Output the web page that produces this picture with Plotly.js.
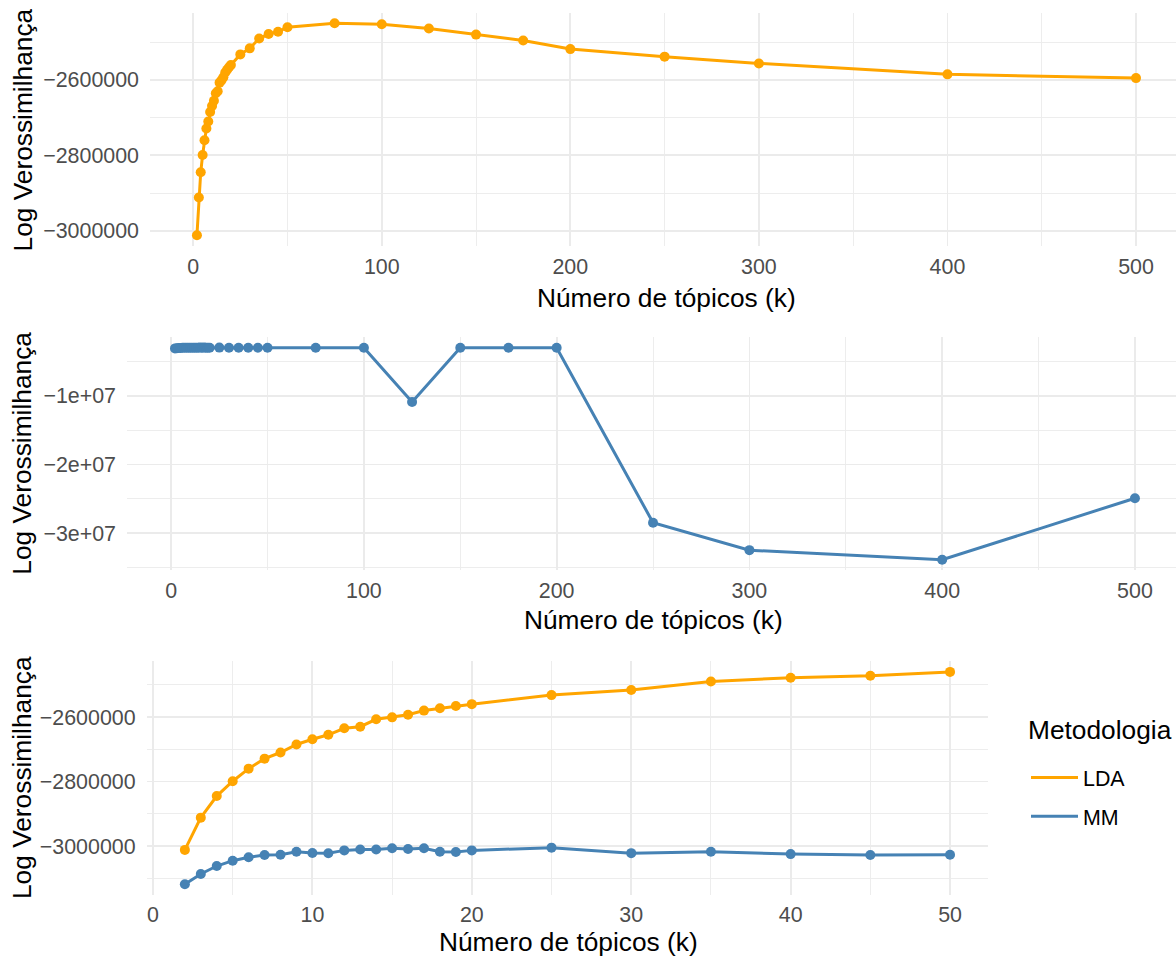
<!DOCTYPE html>
<html>
<head>
<meta charset="utf-8">
<script src="https://cdn.plot.ly/plotly-3.0.1.min.js"></script>
<style>
  html, body { margin: 0; padding: 0; background: #ffffff; }
  #chart { width: 1176px; height: 957px; }
</style>
</head>
<body>
<div id="chart"></div>
<script>
// Number of topics (k) evaluated for each model
const topicsK = [2, 3, 4, 5, 6, 7, 8, 9, 10, 11, 12, 13, 14, 15, 16, 17, 18, 19, 20,
                 25, 30, 35, 40, 45, 50, 75, 100, 125, 150, 175, 200, 250, 300, 400, 500];

// Log-likelihood of the LDA model for each k
const ldaLogLik = [-3012000, -2912000, -2845000, -2799000, -2760000, -2729000, -2710000,
                   -2685000, -2669000, -2655000, -2635000, -2630000, -2607000, -2601000,
                   -2593000, -2580000, -2573000, -2566000, -2560000,
                   -2532000, -2516000, -2490000, -2478000, -2472000, -2460000,
                   -2449500, -2452000, -2463500, -2479500, -2495000, -2518000,
                   -2538000, -2556000, -2585000, -2595000];

// Log-likelihood of the mixed-membership (MM) model for each k
const mmLogLik = [-3118600, -3086600, -3062000, -3045500, -3035000, -3028000, -3027000,
                  -3017500, -3021500, -3022500, -3013500, -3010500, -3010500, -3007000,
                  -3009000, -3007000, -3017500, -3018500, -3013500,
                  -3005000, -3022000, -3017500, -3025000, -3028000, -3027000,
                  -3021000, -3019000, -10900000, -3018000, -3020000, -3019000,
                  -28460000, -32450000, -33850000, -24900000];

const methodNames = ['LDA', 'MM'];
const methodColors = ['#FFA500', '#4682B4'];

// Largest k shown in the detail panel
const detailMaxK = 50;

// Tick labels
const wideKTicks = [0, 100, 200, 300, 400, 500];
const detailKTicks = [0, 10, 20, 30, 40, 50];
const likTickVals = [-3000000, -2800000, -2600000];
const likTickText = ['\u22123000000', '\u22122800000', '\u22122600000'];
const mmTickVals = [-30000000, -20000000, -10000000];
const mmTickText = ['\u22123e+07', '\u22122e+07', '\u22121e+07'];

const axisTitleX = 'Número de tópicos (k)';
const axisTitleY = 'Log Verossimilhança';
const legendTitle = 'Metodologia';

// ---------------------------------------------------------------------------
const W = 1176, H = 957;
const FONT = 'Liberation Sans, Arial, sans-serif';
const GRID = '#EBEBEB';
const TICK_COLOR = '#4D4D4D';
const TICK_SIZE = 21.4;
const TITLE_SIZE = 26.3;

const px = v => v / W;          // horizontal pixel -> paper fraction
const py = v => 1 - v / H;      // vertical pixel (from top) -> paper fraction

const detailIdx = topicsK.map((k, i) => i).filter(i => topicsK[i] <= detailMaxK);
const detailK = detailIdx.map(i => topicsK[i]);

function seriesTrace(xs, ys, color, xa, ya) {
  return {
    x: xs, y: ys, xaxis: xa, yaxis: ya,
    type: 'scatter', mode: 'lines+markers',
    line: { color: color, width: 3 },
    marker: { color: color, size: 10 },
    showlegend: false, hoverinfo: 'x+y'
  };
}

const traces = [
  seriesTrace(topicsK, ldaLogLik, methodColors[0], 'x', 'y'),
  seriesTrace(topicsK, mmLogLik, methodColors[1], 'x2', 'y2'),
  seriesTrace(detailK, detailIdx.map(i => ldaLogLik[i]), methodColors[0], 'x3', 'y3'),
  seriesTrace(detailK, detailIdx.map(i => mmLogLik[i]), methodColors[1], 'x3', 'y3')
];

// Legend entries drawn as plain line keys
methodNames.forEach((name, j) => {
  traces.push({
    x: [null], y: [null], xaxis: 'x3', yaxis: 'y3',
    type: 'scatter', mode: 'lines', name: name,
    legendgroup: name,
    line: { color: methodColors[j], width: 3 },
    showlegend: true, hoverinfo: 'skip'
  });
});

function xAxis(domain, range, ticks, minorStep, anchor) {
  return {
    domain: domain, range: range, anchor: anchor,
    tickmode: 'array', tickvals: ticks, ticktext: ticks.map(String),
    ticks: '', ticklabelstandoff: 5,
    tickfont: { family: FONT, size: TICK_SIZE, color: TICK_COLOR },
    showgrid: true, gridcolor: GRID, gridwidth: 1.8,
    minor: { dtick: minorStep, tick0: minorStep / 2, showgrid: true, gridcolor: GRID, gridwidth: 0.9 },
    zeroline: false, showline: false, fixedrange: true
  };
}

function yAxis(domain, range, vals, text, minorVals, anchor) {
  return {
    domain: domain, range: range, anchor: anchor,
    tickmode: 'array', tickvals: vals, ticktext: text,
    ticks: '', ticklabelstandoff: 10,
    tickfont: { family: FONT, size: TICK_SIZE, color: TICK_COLOR },
    showgrid: true, gridcolor: GRID, gridwidth: 1.8,
    minor: { tickmode: 'array', tickvals: minorVals, showgrid: true, gridcolor: GRID, gridwidth: 0.9 },
    zeroline: false, showline: false, fixedrange: true
  };
}

// Panel boxes (pixels from the top-left of the page)
const p1 = { l: 150, r: 1176, t: 12.7, b: 246.3 };
const p2 = { l: 127, r: 1176, t: 337.0, b: 570.4 };
const p3 = { l: 146.6, r: 988.3, t: 661.2, b: 894.9 };

function titleNote(text, x, y, angle, anchorX) {
  return {
    text: text, xref: 'paper', yref: 'paper', x: px(x), y: py(y),
    xanchor: anchorX || 'center', yanchor: 'middle', showarrow: false, textangle: angle || 0,
    font: { family: FONT, size: TITLE_SIZE, color: '#000000' }
  };
}

const layout = {
  width: W, height: H,
  margin: { l: 0, r: 0, t: 0, b: 0, pad: 0 },
  paper_bgcolor: '#ffffff', plot_bgcolor: '#ffffff',
  font: { family: FONT, color: '#000000' },
  xaxis:  xAxis([px(p1.l), px(p1.r)], [-22.9, 521.2], wideKTicks, 100, 'y'),
  yaxis:  yAxis([py(p1.b), py(p1.t)], [-3041500, -2421360], likTickVals, likTickText,
                [-2900000, -2700000, -2500000], 'x'),
  xaxis2: xAxis([px(p2.l), px(p2.r)], [-22.9, 521.3], wideKTicks, 100, 'y2'),
  yaxis2: yAxis([py(p2.b), py(p2.t)], [-35392250, -1462750], mmTickVals, mmTickText,
                [-35000000, -25000000, -15000000, -5000000], 'x2'),
  xaxis3: xAxis([px(p3.l), px(p3.r)], [-0.4, 52.4], detailKTicks, 10, 'y3'),
  yaxis3: yAxis([py(p3.b), py(p3.t)], [-3151540, -2426860], likTickVals, likTickText,
                [-3100000, -2900000, -2700000, -2500000], 'x3'),
  showlegend: true,
  legend: {
    x: px(1026), y: py(757), xanchor: 'left', yanchor: 'top',
    font: { family: FONT, size: TICK_SIZE, color: '#000000' },
    itemwidth: 47, tracegroupgap: 8, bgcolor: 'rgba(0,0,0,0)', borderwidth: 0
  },
  annotations: [
    titleNote(axisTitleY, 22, (p1.t + p1.b) / 2 + 1, -90),
    titleNote(axisTitleY, 22, (p2.t + p2.b) / 2, -90),
    titleNote(axisTitleY, 22, (p3.t + p3.b) / 2, -90),
    titleNote(axisTitleX, 666, 298),
    titleNote(axisTitleX, 653, 620),
    titleNote(axisTitleX, 568, 942),
    // Legend heading
    titleNote(legendTitle, 1026, 730, 0, 'left')
  ]
};

Plotly.newPlot('chart', traces, layout, { displayModeBar: false, staticPlot: true });
</script>
</body>
</html>
